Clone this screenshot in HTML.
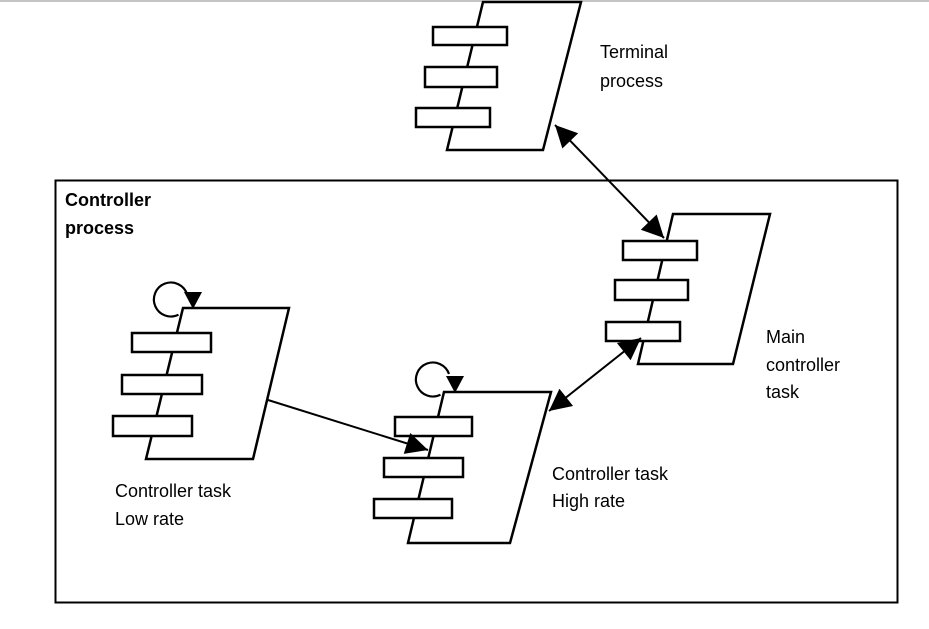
<!DOCTYPE html>
<html><head><style>body{margin:0;background:#fff}svg{display:block}</style></head><body>
<svg width="929" height="629" viewBox="0 0 929 629" xmlns="http://www.w3.org/2000/svg" font-family="Liberation Sans, sans-serif" font-size="18">
<defs>
<marker id="b" viewBox="0 0 10 10" refX="10" refY="5" markerWidth="28" markerHeight="22" orient="auto-start-reverse" markerUnits="userSpaceOnUse"><path d="M0,0 L10,5 L0,10z" fill="#000"/></marker></defs>
<line x1="0" y1="1" x2="929" y2="1" stroke="#888" stroke-width="1"/>
<rect x="55.5" y="180.5" width="842" height="422" fill="none" stroke="#000" stroke-width="2"/>
<g stroke="#000" stroke-width="2.2" fill="none">
<path d="M178.5,314.7 A17,17 0 1 1 187,294"/>
<path d="M440.5,394.7 A17,17 0 1 1 449,374"/>
</g>
<g fill="#000">
<polygon points="184,292 202,292 193,309"/>
<polygon points="446,376 464,376 455,393"/>
</g>
<g fill="#fff" stroke="#000" stroke-width="2.5">
<path d="M483,2 L581,2 L543,150 L447,150Z"/>
<rect x="433" y="27" width="74" height="18"/><rect x="425" y="67" width="72" height="20"/><rect x="416" y="108" width="74" height="19"/>
<path d="M673,214 L770,214 L733,364 L638,364Z"/>
<rect x="623" y="241" width="74" height="19"/><rect x="615" y="280" width="73" height="20"/><rect x="606" y="322" width="74" height="19"/>
<path d="M183,308 L289,308 L253,459 L146,459Z"/>
<rect x="132" y="333" width="79" height="19"/><rect x="122" y="375" width="80" height="19"/><rect x="113" y="416" width="79" height="20"/>
<path d="M444,392 L551,392 L510,543 L408,543Z"/>
<rect x="395" y="417" width="77" height="19"/><rect x="384" y="458" width="79" height="19"/><rect x="374" y="499" width="78" height="19"/>
</g>
<g stroke="#000" stroke-width="2" fill="none">
<line x1="555" y1="125" x2="664" y2="238" marker-start="url(#b)" marker-end="url(#b)"/>
<line x1="641" y1="338" x2="549" y2="411" marker-start="url(#b)" marker-end="url(#b)"/>
<line x1="268" y1="400" x2="428" y2="450" marker-end="url(#b)"/>
</g>
<g fill="#000">
<text x="600" y="58">Terminal</text><text x="600" y="87">process</text>
<text x="65" y="206" font-weight="bold">Controller</text><text x="65" y="234" font-weight="bold">process</text>
<text x="766" y="343">Main</text><text x="766" y="371">controller</text><text x="766" y="398">task</text>
<text x="115" y="497">Controller task</text><text x="115" y="525">Low rate</text>
<text x="552" y="480">Controller task</text><text x="552" y="507">High rate</text>
</g>
</svg>
</body></html>
